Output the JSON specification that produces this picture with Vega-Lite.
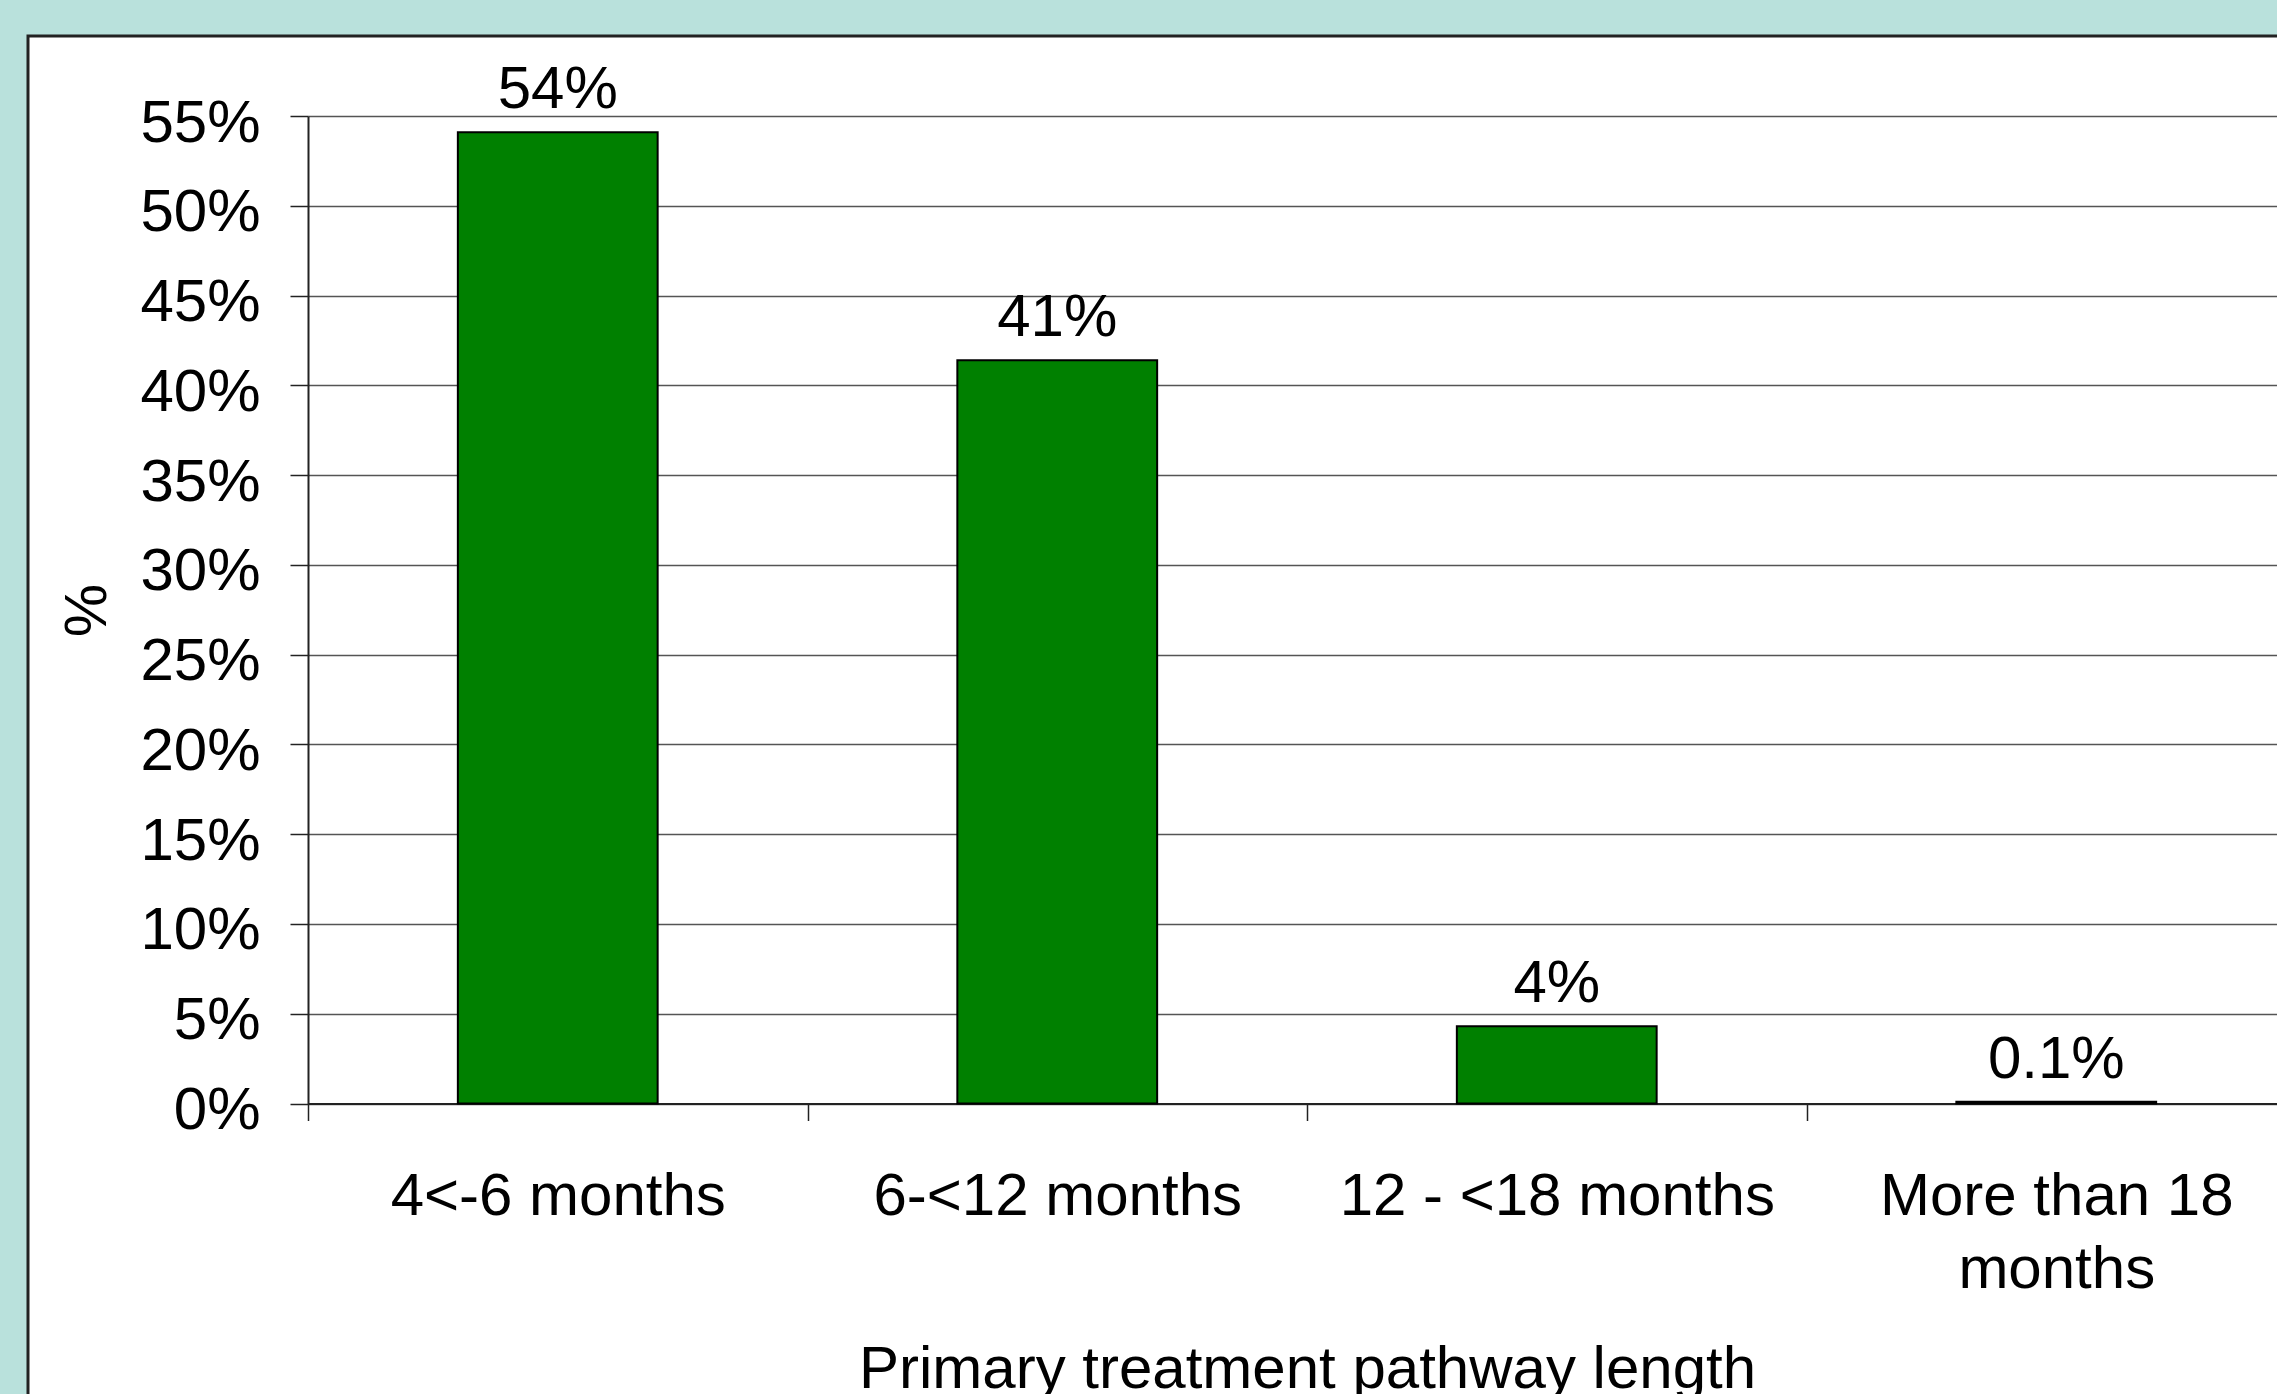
{
  "$schema": "https://vega.github.io/schema/vega-lite/v6.json",
  "width": 2254,
  "height": 1363,
  "autosize": {"type": "none"},
  "padding": {"left": 28, "top": 36, "right": -5, "bottom": -5},
  "background": "#B9E1DC",
  "config": {
    "font": "Liberation Sans",
    "view": {"fill": "white", "stroke": "#222222", "strokeWidth": 3}
  },
  "data": {
    "values": [
      {"category": "4<-6 months", "percent": 54.1, "label": "54%"},
      {"category": "6-<12 months", "percent": 41.4, "label": "41%"},
      {"category": "12 - <18 months", "percent": 4.3, "label": "4%"},
      {"category": "More than 18 months", "percent": 0.1, "label": "0.1%"}
    ]
  },
  "encoding": {
    "x": {
      "field": "category",
      "type": "nominal",
      "sort": null,
      "scale": {"range": [280, 2278], "paddingInner": 0.6, "paddingOuter": 0.3},
      "axis": {
        "orient": "bottom",
        "offset": -295.5,
        "title": "Primary treatment pathway length",
        "titleFont": "Liberation Sans",
        "titleFontSize": 60,
        "titleFontWeight": "normal",
        "titleColor": "black",
        "titleY": 284,
        "titleBaseline": "alphabetic",
        "tickOffset": -249.75,
        "labelOffset": 249.75,
        "tickSize": 17,
        "tickColor": "#222222",
        "tickWidth": 1.5,
        "domainColor": "#222222",
        "domainWidth": 2,
        "labelAngle": 0,
        "labelFont": "Liberation Sans",
        "labelFontSize": 60,
        "labelColor": "black",
        "labelBaseline": "alphabetic",
        "labelPadding": 94,
        "labelLineHeight": 72.5,
        "labelLimit": 0,
        "labelOverlap": false,
        "labelFlush": false,
        "labelExpr": "datum.label == 'More than 18 months' ? ['More than 18', 'months'] : datum.label"
      }
    },
    "y": {
      "field": "percent",
      "type": "quantitative",
      "scale": {"domain": [0, 55], "range": [1067.5, 80], "nice": false, "zero": true},
      "axis": {
        "values": [0, 5, 10, 15, 20, 25, 30, 35, 40, 45, 50, 55],
        "labelExpr": "datum.value + '%'",
        "title": "%",
        "titleFont": "Liberation Sans",
        "titleFontSize": 60,
        "titleFontWeight": "normal",
        "titleColor": "black",
        "titleAngle": -90,
        "titleX": -203,
        "titleY": 574,
        "titleBaseline": "alphabetic",
        "titleAlign": "center",
        "offset": -280,
        "grid": true,
        "gridColor": "#555555",
        "gridWidth": 1.5,
        "domainColor": "#222222",
        "domainWidth": 2,
        "tickColor": "#222222",
        "tickWidth": 1.5,
        "tickSize": 18,
        "labelPadding": 30,
        "labelFont": "Liberation Sans",
        "labelFontSize": 60,
        "labelColor": "black",
        "labelBaseline": "alphabetic",
        "labelOffset": 25,
        "labelFlush": false,
        "labelOverlap": false
      }
    }
  },
  "layer": [
    {"mark": {"type": "bar", "fill": "#008000", "stroke": "#000000", "strokeWidth": 2}},
    {
      "mark": {"type": "text", "dy": -24, "baseline": "alphabetic", "font": "Liberation Sans", "fontSize": 60, "color": "black"},
      "encoding": {"text": {"field": "label"}}
    }
  ]
}
